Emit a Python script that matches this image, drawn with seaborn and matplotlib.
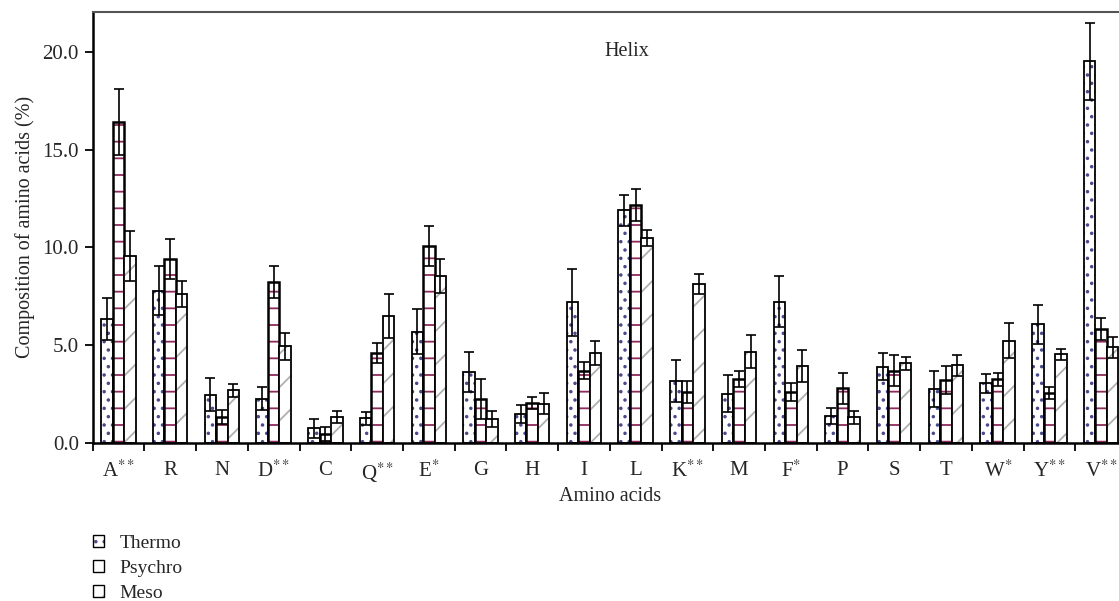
import matplotlib
matplotlib.use("Agg")
import numpy as np
import pandas as pd
import seaborn as sns
import matplotlib.pyplot as plt
from matplotlib.colors import to_rgba
from matplotlib.patches import Patch
from matplotlib.ticker import FixedLocator, FormatStrFormatter

amino = ['A', 'R', 'N', 'D', 'C', 'Q', 'E', 'G', 'H', 'I',
         'L', 'K', 'M', 'F', 'P', 'S', 'T', 'W', 'Y', 'V']
tick_labels = ['A$^{**}$', 'R', 'N', 'D$^{**}$', 'C', 'Q$^{**}$', 'E$^{*}$', 'G', 'H', 'I',
               'L', 'K$^{**}$', 'M', 'F$^{*}$', 'P', 'S', 'T', 'W$^{*}$', 'Y$^{**}$', 'V$^{**}$']
groups = ['Thermo', 'Psychro', 'Meso']

thermo = [6.35, 7.78, 2.46, 2.25, 0.73, 1.25, 5.68, 3.62, 1.45, 7.19,
          11.89, 3.14, 2.51, 7.22, 1.37, 3.89, 2.76, 3.04, 6.06, 19.52]
thermo_err = [1.07, 1.26, 0.86, 0.58, 0.48, 0.34, 1.16, 1.02, 0.46, 1.72,
              0.80, 1.08, 0.94, 1.31, 0.41, 0.70, 0.91, 0.48, 1.00, 1.98]
psychro = [16.43, 9.42, 1.31, 8.22, 0.43, 4.58, 10.08, 2.25, 2.02, 3.69,
           12.15, 2.58, 3.24, 2.58, 2.78, 3.69, 3.21, 3.24, 2.56, 5.83]
psychro_err = [1.69, 1.02, 0.36, 0.82, 0.36, 0.52, 1.03, 1.02, 0.32, 0.43,
               0.82, 0.56, 0.41, 0.47, 0.79, 0.80, 0.70, 0.34, 0.31, 0.57]
meso = [9.57, 7.61, 2.68, 4.93, 1.33, 6.48, 8.55, 1.21, 2.00, 4.58,
        10.49, 8.12, 4.66, 3.93, 1.30, 4.06, 3.96, 5.22, 4.52, 4.88]
meso_err = [1.28, 0.67, 0.34, 0.70, 0.31, 1.14, 0.87, 0.40, 0.54, 0.61,
            0.40, 0.51, 0.84, 0.81, 0.34, 0.34, 0.53, 0.89, 0.29, 0.53]

yticks = [0, 5, 10, 15, 20]

sns.set_style("ticks")
plt.rcParams['font.family'] = ['Liberation Serif', 'DejaVu Serif']
plt.rcParams['mathtext.fontset'] = 'stix'
plt.rcParams['hatch.linewidth'] = 1.3

values = [thermo, psychro, meso]
errors = [thermo_err, psychro_err, meso_err]
df = pd.DataFrame({
    'amino': amino * 3,
    'group': [g for g in groups for _ in amino],
    'value': thermo + psychro + meso,
})

fig = plt.figure(figsize=(11.19, 6.01), dpi=100)
ax = fig.add_axes([0.0828, 0.2634, 0.9243, 0.7166])

sns.barplot(data=df, x='amino', y='value', hue='group', order=amino, hue_order=groups,
            palette=['white'] * 3, edgecolor='black', linewidth=1.4, width=0.667,
            errorbar=None, legend=False, ax=ax, saturation=1)

hatches = ['..', '-', '/']
hatch_colors = ['#4a4a8c', '#8c2a5c', '#b0b0b0']
edge_widths = [1.3, 1.8, 1.3]


def set_hatch_color(p, c):
    if hasattr(p, 'set_hatchcolor'):
        p.set_hatchcolor(c)
    else:
        p._hatch_color = to_rgba(c)


for cont, h, hc, lw, vals, errs in zip(ax.containers, hatches, hatch_colors, edge_widths,
                                        values, errors):
    xs = []
    for bar in cont:
        bar.set_hatch(h)
        bar.set_edgecolor('black')
        bar.set_linewidth(lw)
        set_hatch_color(bar, hc)
        xs.append(bar.get_x() + bar.get_width() / 2)
    ax.errorbar(xs, vals, yerr=errs, fmt='none', ecolor='black', elinewidth=1.2,
                capsize=3.4, capthick=1.2, zorder=5)

ax.set_xlim(-0.5, 19.5)
ax.set_ylim(0, 22.04)
ax.set_yticks(yticks)
ax.yaxis.set_major_formatter(FormatStrFormatter('%.1f'))
ax.set_xticks(range(len(amino)))
ax.set_xticklabels(tick_labels)
ax.xaxis.set_minor_locator(FixedLocator(np.arange(-0.5, 20, 1.0)))
ax.tick_params(axis='x', which='major', length=0, labelsize=15, pad=13)
ax.tick_params(axis='x', which='minor', length=6, width=1.3, direction='out', color='black')
ax.tick_params(axis='y', length=6, width=1.3, labelsize=15, pad=4, direction='out', color='black')

ax.set_xlabel('Amino acids', fontsize=14.5, labelpad=1)
ax.set_ylabel('Composition of amino acids (%)', fontsize=14.5, labelpad=5)

for s in ['left', 'bottom']:
    ax.spines[s].set_color('black')
    ax.spines[s].set_linewidth(1.8)
ax.spines['top'].set_visible(True)
ax.spines['top'].set_color('#555555')
ax.spines['top'].set_linewidth(1.5)
ax.spines['right'].set_visible(False)

ax.text(9.83, 20.0, 'Helix', ha='center', va='center', fontsize=14.5)

handles = []
for g, h, hc in zip(groups, hatches, hatch_colors):
    p = Patch(facecolor='white', edgecolor='black', hatch=h, linewidth=1.0, label=g)
    set_hatch_color(p, hc)
    handles.append(p)
fig.legend(handles=handles, loc='upper left', bbox_to_anchor=(0.0792, 0.117),
           frameon=False, fontsize=14, handlelength=0.6, handleheight=0.6,
           handletextpad=0.8, labelspacing=0.42, borderaxespad=0, borderpad=0.2)

fig.savefig('out.png', dpi=100)
